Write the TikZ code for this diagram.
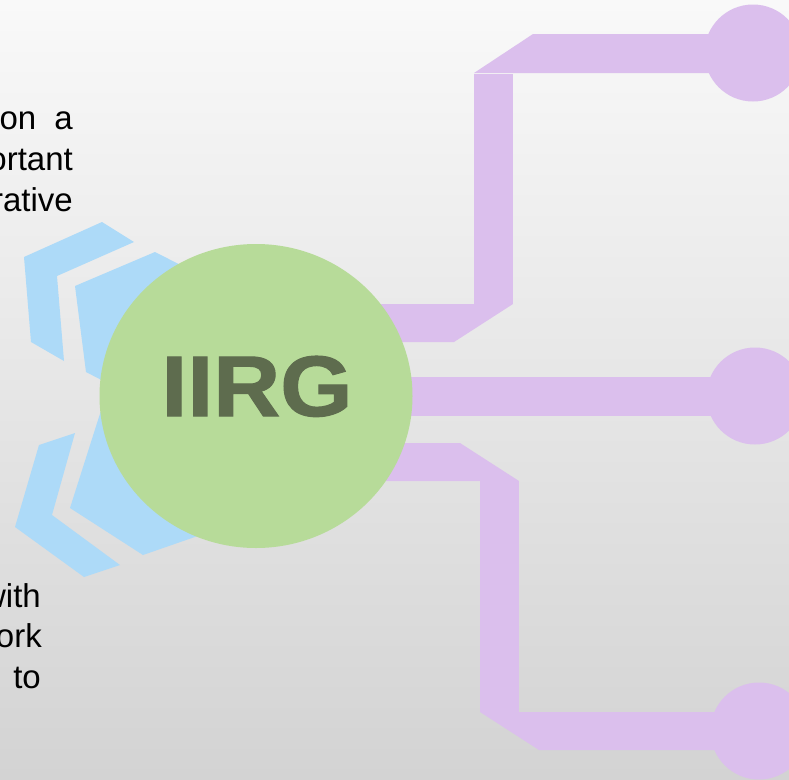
\documentclass[tikz,border=0pt]{standalone}
\usepackage{fontspec}
\setmainfont{Liberation Sans}
\newfontfamily\hubfont{Liberation Sans Bold}[FakeBold=1.2]
\usetikzlibrary{shapes.geometric}
\definecolor{bgtop}{RGB}{249,249,249}
\definecolor{bgbot}{RGB}{211,211,211}
\definecolor{hexblue}{RGB}{173,218,248}
\definecolor{hubgreen}{RGB}{183,219,153}
\definecolor{hubtext}{RGB}{94,108,78}
\definecolor{linkpurple}{RGB}{219,191,237}
\begin{document}
\begin{tikzpicture}[x=1pt,y=-1pt,
  hexpiece/.style={fill=hexblue},
  trace/.style={fill=linkpurple},
  endpad/.style={circle,fill=linkpurple,minimum size=97pt,inner sep=0pt},
  hubshape/.style={ellipse,fill=hubgreen,minimum width=313pt,minimum height=304pt,inner sep=0pt},
  hublabel/.style={anchor=base,inner sep=0pt,text=hubtext,xscale=1.08,font=\fontsize{86}{86}\selectfont\hubfont},
  sidetext/.style={anchor=base east,inner sep=0pt,font=\fontsize{33}{33}\selectfont}]
\useasboundingbox (0,0) rectangle (789,779);
\fill[top color=bgtop,bottom color=bgbot] (0,0) rectangle (789,779);

% blue hexagon pieces
\fill[hexpiece] (102,222) -- (134,242) -- (57,276) -- (64,361) -- (31,342) -- (24,257) -- cycle;
\fill[hexpiece] (75,286) -- (155,252) -- (210,280) -- (220,370) -- (140,400) -- (86,372) -- cycle;
\fill[hexpiece] (75,433) -- (39,445) -- (15,527) -- (84,577) -- (120,565) -- (52,515) -- cycle;
\fill[hexpiece] (105,398) -- (70,508) -- (143,555) -- (215,530) -- (225,440) -- (160,395) -- cycle;

% purple traces
\fill[trace] (250,304) -- (513,304) -- (454,342) -- (250,342) -- cycle;
\fill[trace] (474,74.3) rectangle (513,304);
\fill[trace] (474,73) -- (533,34) -- (753,34) -- (753,73) -- cycle;
\fill[trace] (250,377) rectangle (755,416);
\fill[trace] (250,443) -- (460,443) -- (519,481) -- (250,481) -- cycle;
\fill[trace] (480,481) rectangle (519,712);
\fill[trace] (480,712) -- (759,712) -- (759,750) -- (539,750) -- cycle;

% end pads
\node[endpad] (pad1) at (753,53) {};
\node[endpad] (pad2) at (755,396) {};
\node[endpad] (pad3) at (759,731) {};

% hub
\node[hubshape] (hub) at (256,396) {};
\node[hublabel] (hubtxt) at (257,416) {IIRG};

% side texts
\node[sidetext] (t1) at (73,129) {on\hspace{0.55em}a};
\node[sidetext] (t2) at (73,170) {ortant};
\node[sidetext] (t3) at (73,211) {rative};
\node[sidetext] (b1) at (41,607) {with};
\node[sidetext] (b2) at (42,647) {ork};
\node[sidetext] (b3) at (41,688) {to};
\end{tikzpicture}
\end{document}
